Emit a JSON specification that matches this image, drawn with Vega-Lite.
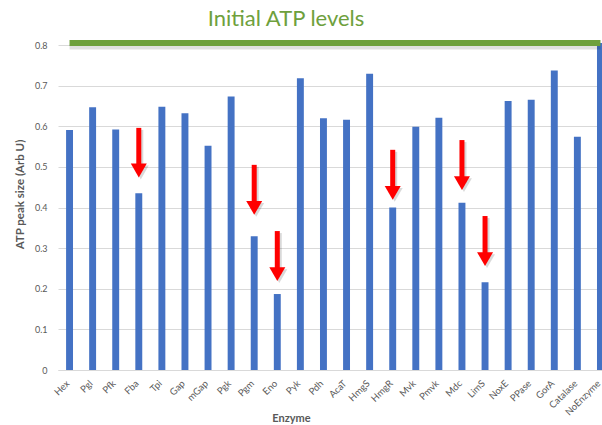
{
  "$schema": "https://vega.github.io/schema/vega-lite/v6.json",
  "autosize": {"type": "none"},
  "padding": {"left": 58, "top": 45, "right": 0, "bottom": 55},
  "width": 544,
  "height": 325,
  "background": "white",
  "config": {"font": "Lato", "view": {"stroke": null}},
  "title": {
    "text": "Initial ATP levels",
    "color": "#6EA03C",
    "font": "Lato",
    "fontSize": 22,
    "fontWeight": "normal",
    "anchor": "middle",
    "frame": "group",
    "dx": -44,
    "dy": 24,
    "baseline": "alphabetic",
    "offset": 16
  },
  "datasets": {
    "atp": [
      {"enzyme": "Hex", "value": 0.591},
      {"enzyme": "Pgl", "value": 0.647},
      {"enzyme": "Pfk", "value": 0.592},
      {"enzyme": "Fba", "value": 0.435},
      {"enzyme": "Tpi", "value": 0.648},
      {"enzyme": "Gap", "value": 0.632},
      {"enzyme": "mGap", "value": 0.552},
      {"enzyme": "Pgk", "value": 0.673},
      {"enzyme": "Pgm", "value": 0.329},
      {"enzyme": "Eno", "value": 0.187},
      {"enzyme": "Pyk", "value": 0.718},
      {"enzyme": "Pdh", "value": 0.620},
      {"enzyme": "AcaT", "value": 0.616},
      {"enzyme": "HmgS", "value": 0.729},
      {"enzyme": "HmgR", "value": 0.400},
      {"enzyme": "Mvk", "value": 0.599},
      {"enzyme": "Pmvk", "value": 0.621},
      {"enzyme": "Mdc", "value": 0.412},
      {"enzyme": "LimS", "value": 0.216},
      {"enzyme": "NoxE", "value": 0.662},
      {"enzyme": "PPase", "value": 0.665},
      {"enzyme": "GorA", "value": 0.737},
      {"enzyme": "Catalase", "value": 0.574},
      {"enzyme": "NoEnzyme", "value": 0.805}
    ],
    "arrows": [
      {"enzyme": "Fba", "tail": 0.596, "head": 0.491},
      {"enzyme": "Pgm", "tail": 0.505, "head": 0.399},
      {"enzyme": "Eno", "tail": 0.342, "head": 0.236},
      {"enzyme": "HmgR", "tail": 0.542, "head": 0.436},
      {"enzyme": "Mdc", "tail": 0.566, "head": 0.460},
      {"enzyme": "LimS", "tail": 0.379, "head": 0.273}
    ]
  },
  "layer": [
    {
      "data": {"name": "atp"},
      "mark": {"type": "bar", "color": "#4472C4"},
      "encoding": {
        "x": {
          "field": "enzyme",
          "type": "nominal",
          "sort": null,
          "scale": {
            "domain": ["Hex", "Pgl", "Pfk", "Fba", "Tpi", "Gap", "mGap", "Pgk", "Pgm", "Eno", "Pyk", "Pdh", "AcaT", "HmgS", "HmgR", "Mvk", "Pmvk", "Mdc", "LimS", "NoxE", "PPase", "GorA", "Catalase", "NoEnzyme"],
            "range": [0, 554],
            "paddingInner": 0.7,
            "paddingOuter": 0.35
          },
          "axis": {
            "title": "Enzyme",
            "titleFont": "Lato",
            "titleFontSize": 11,
            "titleFontWeight": "bold",
            "titleColor": "#595959",
            "titleX": 233,
            "titleY": 48,
            "titleBaseline": "middle",
            "labelAngle": -45,
            "labelFontSize": 9.5,
            "labelColor": "#595959",
            "labelPadding": 8,
            "labelOffset": -5,
            "ticks": false,
            "domainColor": "#d9d9d9",
            "grid": false
          }
        },
        "y": {
          "field": "value",
          "type": "quantitative",
          "scale": {"domain": [0, 0.8], "nice": false},
          "axis": {
            "title": "ATP peak size (Arb U)",
            "titleFont": "Lato",
            "titleFontSize": 11.5,
            "titleFontWeight": "bold",
            "titleColor": "#595959",
            "titleX": -38,
            "titleY": 149,
            "titleAngle": -90,
            "titleBaseline": "middle",
            "titleAlign": "center",
            "values": [0, 0.1, 0.2, 0.3, 0.4, 0.5, 0.6, 0.7, 0.8],
            "format": "~g",
            "labelFontSize": 9,
            "labelColor": "#595959",
            "labelPadding": 11,
            "ticks": false,
            "domain": false,
            "grid": true,
            "gridColor": "#d9d9d9"
          }
        }
      }
    },
    {
      "data": {"name": "atp"},
      "transform": [{"filter": "datum.enzyme === 'NoEnzyme'"}],
      "mark": {"type": "rule", "color": "#000000", "opacity": 0.12, "strokeWidth": 5, "yOffset": 4},
      "encoding": {
        "x": {"datum": "Hex"},
        "x2": {"datum": "NoEnzyme"},
        "y": {"field": "value", "type": "quantitative"}
      }
    },
    {
      "data": {"name": "atp"},
      "transform": [{"filter": "datum.enzyme === 'NoEnzyme'"}],
      "mark": {"type": "rule", "color": "#6EA03C", "strokeWidth": 6},
      "encoding": {
        "x": {"datum": "Hex"},
        "x2": {"datum": "NoEnzyme"},
        "y": {"field": "value", "type": "quantitative"}
      }
    },
    {
      "data": {"name": "arrows"},
      "mark": {"type": "rule", "color": "#000000", "opacity": 0.15, "strokeWidth": 5, "xOffset": 2, "yOffset": 2},
      "encoding": {
        "x": {"field": "enzyme", "type": "nominal"},
        "y": {"field": "tail", "type": "quantitative"},
        "y2": {"field": "head"}
      }
    },
    {
      "data": {"name": "arrows"},
      "mark": {"type": "point", "shape": "triangle-down", "size": 256, "filled": true, "color": "#000000", "opacity": 0.15, "xOffset": 2, "yOffset": 2},
      "encoding": {
        "x": {"field": "enzyme", "type": "nominal"},
        "y": {"field": "head", "type": "quantitative"}
      }
    },
    {
      "data": {"name": "arrows"},
      "mark": {"type": "rule", "color": "#FF0000", "strokeWidth": 5},
      "encoding": {
        "x": {"field": "enzyme", "type": "nominal"},
        "y": {"field": "tail", "type": "quantitative"},
        "y2": {"field": "head"}
      }
    },
    {
      "data": {"name": "arrows"},
      "mark": {"type": "point", "shape": "triangle-down", "size": 256, "filled": true, "color": "#FF0000", "opacity": 1},
      "encoding": {
        "x": {"field": "enzyme", "type": "nominal"},
        "y": {"field": "head", "type": "quantitative"}
      }
    }
  ]
}
